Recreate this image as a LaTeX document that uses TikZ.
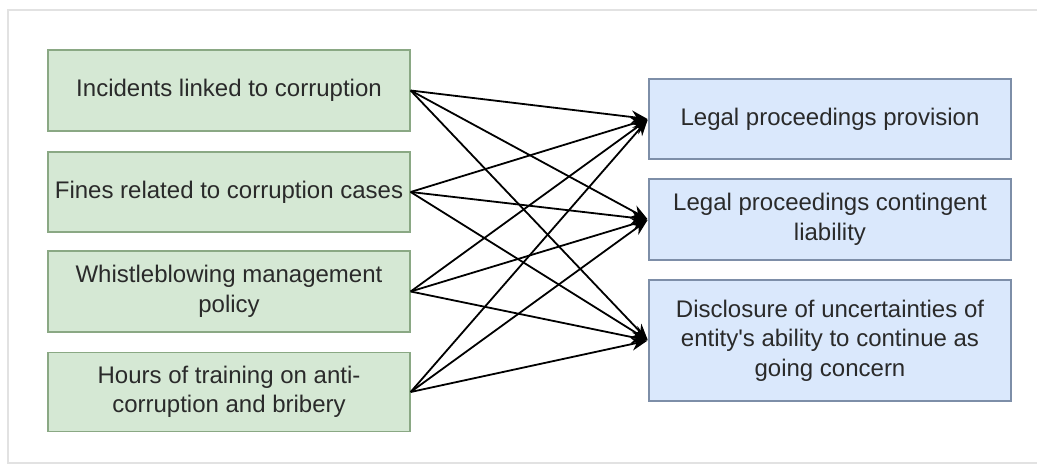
\documentclass[tikz,border=0pt]{standalone}
\usepackage{fontspec}
\setmainfont{Liberation Sans}
\usetikzlibrary{arrows.meta}
\definecolor{gfill}{HTML}{D5E8D4}
\definecolor{gdraw}{HTML}{8AA884}
\definecolor{bfill}{HTML}{DAE8FC}
\definecolor{bdraw}{HTML}{7D8EA8}
\definecolor{txt}{HTML}{2A2A2A}
\definecolor{frame}{HTML}{E2E2E2}
\tikzset{
  box/.style={rectangle, line width=1.3pt, minimum width=362pt, inner sep=0pt,
    align=center, text=txt, font=\fontsize{24}{29.5}\selectfont},
  gbox/.style={box, fill=gfill, draw=gdraw},
  bbox/.style={box, fill=bfill, draw=bdraw},
  link/.style={line width=1.8pt, -{Stealth[length=16pt,width=13pt]}, shorten >=1pt}
}
\begin{document}
\begin{tikzpicture}[x=1pt,y=-1pt]
\useasboundingbox (0,0) rectangle (1037,465);
\fill[white] (0,0) rectangle (1037,465);
\draw[frame, line width=1.5pt] (1040,10) -- (8,10) -- (8,463) -- (1040,463);
\node[gbox, minimum height=81pt] (L1) at (229,90.5) {Incidents linked to corruption};
\node[gbox, minimum height=80pt] (L2) at (229,192) {Fines related to corruption cases};
\node[gbox, minimum height=81pt] (L3) at (229,291.5) {Whistleblowing management\\policy};
\node[gbox, minimum height=79pt] (L4) at (229,392) {Hours of training on anti-\\corruption and bribery};
\node[bbox, minimum height=80pt] (R1) at (830,119) {Legal proceedings provision};
\node[bbox, minimum height=81pt] (R2) at (830,219.5) {Legal proceedings contingent\\liability};
\node[bbox, minimum height=121pt] (R3) at (830,340.5) {Disclosure of uncertainties of\\entity\textquotesingle s ability to continue as\\going concern};
\foreach \s in {L1,L2,L3,L4}{
  \foreach \t in {R1,R2,R3}{
    \draw[link] (\s.east) -- (\t.west);
  }
}
\end{tikzpicture}
\end{document}
